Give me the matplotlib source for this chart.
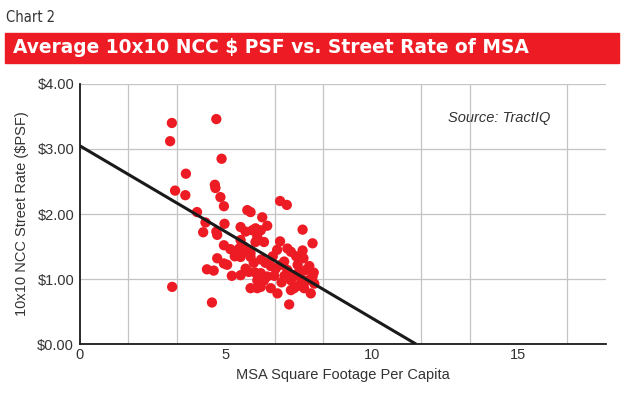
import numpy as np
import matplotlib
matplotlib.use("Agg")
import matplotlib.pyplot as plt
from matplotlib.patches import Rectangle

# ── data ────────────────────────────────────────────────────────────────────
sqft_per_capita = [
    3.15, 3.09, 4.67, 4.85, 3.63, 3.26, 3.61, 4.62, 4.64, 4.81, 4.93, 4.01,
    5.73, 5.84, 6.85, 7.08, 4.30, 4.95, 5.50, 4.22, 4.67, 4.70, 6.24, 6.41,
    5.90, 6.19, 5.67, 6.01, 7.62, 7.96, 6.85, 4.93, 5.15, 5.50, 5.61, 5.73,
    6.01, 6.30, 6.07, 5.50, 5.84, 5.45, 5.84, 7.10, 7.22, 7.62, 7.65, 4.70,
    4.93, 5.04, 4.35, 4.58, 5.67, 5.78, 5.50, 6.00, 6.53, 6.70, 6.87, 6.99,
    6.19, 6.07, 6.30, 6.41, 6.19, 5.84, 6.07, 6.53, 6.76, 7.10, 7.22, 7.33,
    7.45, 7.50, 7.56, 7.73, 7.79, 7.96, 8.02, 7.90, 7.67, 7.33, 7.22, 4.52,
    7.16, 3.16, 6.65, 6.90, 7.00, 5.95, 6.20, 6.60, 6.75, 7.40, 7.85, 8.00,
    7.50, 5.20, 5.30, 6.35,
]
street_rate = [
    3.40, 3.12, 3.46, 2.85, 2.62, 2.36, 2.29, 2.45, 2.40, 2.26, 2.12, 2.03,
    2.06, 2.03, 2.20, 2.14, 1.87, 1.85, 1.80, 1.72, 1.73, 1.68, 1.95, 1.82,
    1.75, 1.75, 1.73, 1.78, 1.76, 1.55, 1.58, 1.52, 1.46, 1.60, 1.50, 1.42,
    1.57, 1.57, 1.65, 1.34, 1.34, 1.47, 1.40, 1.47, 1.42, 1.44, 1.32, 1.32,
    1.24, 1.22, 1.15, 1.13, 1.16, 1.11, 1.06, 1.10, 1.20, 1.16, 1.22, 1.27,
    1.09, 0.98, 0.98, 1.04, 0.88, 0.86, 0.86, 0.86, 0.78, 1.14, 0.98, 1.06,
    1.22, 1.11, 1.01, 1.14, 0.98, 1.04, 0.93, 0.78, 0.86, 0.86, 0.83, 0.64,
    0.61, 0.88, 1.05, 0.95, 1.05, 1.25, 1.30, 1.35, 1.45, 1.35, 1.20, 1.10,
    0.90, 1.05, 1.35, 1.25,
]
fit_x = [0, 11.5]
fit_y = [3.05, 0.0]

x_ticks = [0, 5, 10, 15]
y_ticks = [0, 1, 2, 3, 4]
y_tick_labels = ["\\$0.00", "\\$1.00", "\\$2.00", "\\$3.00", "\\$4.00"]

RED = "#ED1C24"
plt.rcParams["font.family"] = ["Liberation Sans", "DejaVu Sans"]

fig = plt.figure(figsize=(6.23, 3.96), dpi=100)
ax = fig.add_axes([0.128, 0.131, 0.845, 0.657])

# header
fig.text(0.010, 0.955, "Chart 2", fontsize=10.5, color="#333333",
         family="DejaVu Sans", fontstretch="condensed", va="center")
fig.patches.append(Rectangle((0.008, 0.842), 0.985, 0.075,
                             transform=fig.transFigure, color=RED, zorder=0))
fig.text(0.021, 0.879, "Average 10x10 NCC \\$ PSF vs. Street Rate of MSA",
         fontsize=13.4, color="white", fontweight="bold",
         family="DejaVu Sans", va="center")

# scatter + fit
ax.scatter(sqft_per_capita, street_rate, s=55, color=RED, edgecolor="none",
           zorder=3)
ax.plot(fit_x, fit_y, color="#1a1a1a", lw=2.2, zorder=4,
        solid_capstyle="butt")

ax.set_xlim(0, 18)
ax.set_ylim(0, 4)
ax.set_xticks(x_ticks)
ax.set_xticks(np.arange(0, 18, 5 / 3), minor=True)
ax.set_yticks(y_ticks)
ax.set_yticklabels(y_tick_labels)
ax.tick_params(which="both", length=0, labelsize=10.5, labelcolor="#333333")
ax.tick_params(axis="x", pad=3)
ax.tick_params(axis="y", pad=4)
ax.grid(True, axis="x", which="minor", color="#c4c4c4", lw=0.9)
ax.grid(True, axis="y", which="major", color="#c4c4c4", lw=0.9)
ax.set_axisbelow(True)
for s in ("top", "right"):
    ax.spines[s].set_visible(False)
for s in ("left", "bottom"):
    ax.spines[s].set_color("#1a1a1a")
    ax.spines[s].set_linewidth(1.3)

ax.set_xlabel("MSA Square Footage Per Capita", fontsize=10.5,
              color="#333333", labelpad=4)
ax.set_ylabel("10x10 NCC Street Rate (\\$PSF)", fontsize=10.5,
              color="#333333", labelpad=6)
ax.text(12.6, 3.48, "Source: TractIQ", fontsize=10.5, style="italic",
        color="#333333", va="center")

fig.savefig("out.png", dpi=100)
